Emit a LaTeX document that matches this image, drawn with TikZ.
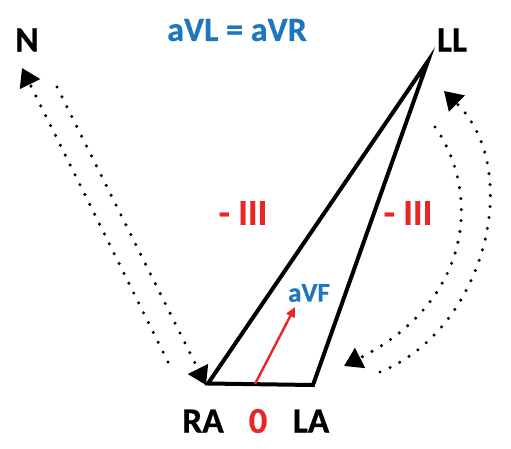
\documentclass[tikz,border=0pt]{standalone}
\usepackage{fontspec}
\setmainfont{Carlito}[BoldFeatures={FakeBold=0.6}]
\usetikzlibrary{arrows.meta}
\definecolor{ekgblue}{RGB}{30,118,189}
\definecolor{ekgred}{RGB}{232,38,38}
\tikzset{
  lbl/.style={font=\bfseries\fontsize{35.5}{35.5}\selectfont, text=black, inner sep=0pt},
  bluelbl/.style={font=\bfseries\fontsize{34}{34}\selectfont, text=ekgblue, inner sep=0pt},
  redlbl/.style={font=\bfseries\fontsize{36.5}{36.5}\selectfont, text=ekgred, inner sep=0pt},
  dotline/.style={line width=3.4pt, line cap=round, dash pattern=on 0pt off 11pt,
     -{Triangle[length=18pt,width=22pt]}},
  tri/.style={line width=4pt, line join=miter},
}
\begin{document}
\begin{tikzpicture}[x=1pt,y=-1pt]
\useasboundingbox (0,0) rectangle (511,448);
% vertices
\coordinate (RA) at (208,383.5);
\coordinate (LA) at (313,385);
\coordinate (LL) at (428,61);
\coordinate (O) at (255,384);
\coordinate (F) at (295,307);
% labels
\node[lbl] (N) at (27,40) {N};
\node[lbl] (LLl) at (452,40) {LL};
\node[lbl] (RAl) at (203,421) {RA};
\node[redlbl] (zero) at (258,421) {0};
\node[lbl] (LAl) at (311,421) {LA};
\node[bluelbl] (title) at (237,30) {aVL = aVR};
\node[redlbl] (m1) at (243,213) {- III};
\node[redlbl] (m2) at (408,213) {- III};
\node[bluelbl, font=\bfseries\fontsize{27}{27}\selectfont] (aVF) at (309,293) {aVF};
% triangle
\draw[tri] (RA) -- (LA) -- (LL) -- cycle;
% aVF vector
\draw[ekgred, line width=2.4pt, -{Triangle[length=10pt,width=9pt]}] (O) -- (F);
% dotted arrows left
\coordinate (a1) at (168,362);
\coordinate (a2) at (22,68);
\coordinate (b1) at (57,87);
\coordinate (b2) at (206,385);
\draw[dotline] (a1) -- (a2);
\draw[dotline] (b1) -- (b2);
% dotted arcs right
\coordinate (c1) at (380,372);
\coordinate (c2) at (444,91);
\coordinate (d1) at (435,127);
\coordinate (d2) at (344,366);
\draw[dotline] (c1) .. controls (485,330) and (525,170) .. (c2);
\draw[dotline] (d1) .. controls (480,190) and (475,300) .. (d2);
\end{tikzpicture}
\end{document}
